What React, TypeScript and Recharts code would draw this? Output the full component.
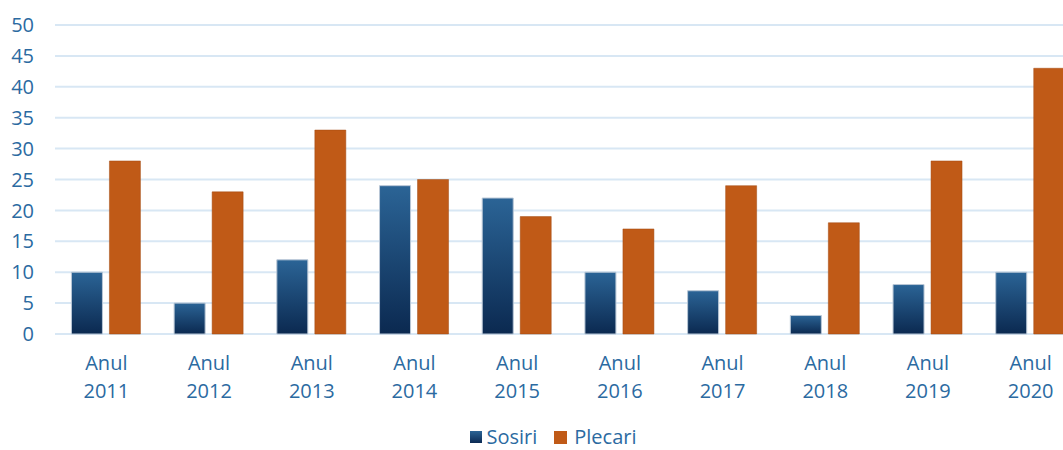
import React from "react";
import { BarChart, Bar, XAxis, YAxis, CartesianGrid, Legend } from "recharts";

const categories = ["2011", "2012", "2013", "2014", "2015", "2016", "2017", "2018", "2019", "2020"];
const sosiri = [10, 5, 12, 24, 22, 10, 7, 3, 8, 10];
const plecari = [28, 23, 33, 25, 19, 17, 24, 18, 28, 43];
const yTicks = [0, 5, 10, 15, 20, 25, 30, 35, 40, 45, 50];

const data = categories.map((c, i) => ({ name: c, Sosiri: sosiri[i], Plecari: plecari[i] }));

const TEXT = "#2b6aa1";
const FONT = "'Open Sans', sans-serif";

const XTick = (props: any) => {
  const { x, y, payload } = props;
  return (
    <text x={x} y={y} textAnchor="middle" fill={TEXT} fontSize={20} fontFamily={FONT}>
      <tspan x={x} dy={28}>Anul</tspan>
      <tspan x={x} dy={28}>{payload.value}</tspan>
    </text>
  );
};

const LegendContent = () => (
  <div style={{ display: "flex", justifyContent: "center", alignItems: "center", fontFamily: FONT, fontSize: 20, color: TEXT, height: 24, lineHeight: "24px" }}>
    <span style={{ display: "inline-block", width: 12, height: 12, background: "linear-gradient(#2b6496, #0c2a54)", marginRight: 4 }} />
    <span style={{ marginRight: 17 }}>Sosiri</span>
    <span style={{ display: "inline-block", width: 13, height: 13, background: "#c05a17", marginRight: 7 }} />
    <span>Plecari</span>
  </div>
);

export default function App() {
  return (
    <div style={{ position: "absolute", left: 0, top: 0, width: 1063, height: 450, overflow: "hidden", background: "#fff" }}>
      <BarChart
        width={1090}
        height={450}
        data={data}
        margin={{ top: 25, right: 8, bottom: 0, left: 0 }}
        barCategoryGap="16%"
        barGap={7}
      >
        <defs>
          <linearGradient id="blueGrad" x1="0" y1="0" x2="0" y2="1">
            <stop offset="0%" stopColor="#2b6496" />
            <stop offset="100%" stopColor="#0b2950" />
          </linearGradient>
        </defs>
        <CartesianGrid vertical={false} stroke="#d8e7f4" strokeWidth={2} />
        <XAxis dataKey="name" height={92} axisLine={false} tickLine={false} tick={<XTick />} interval={0} />
        <YAxis
          width={55}
          domain={[0, 50]}
          ticks={yTicks}
          axisLine={false}
          tickLine={false}
          tickSize={0}
          tickMargin={21}
          tick={{ fill: TEXT, fontSize: 20, fontFamily: FONT }}
          interval={0}
        />
        <Legend
          verticalAlign="bottom"
          height={24}
          content={<LegendContent />}
          wrapperStyle={{ top: 425, bottom: "auto", left: 22, width: 1063, height: 24 }}
        />
        <Bar dataKey="Sosiri" fill="url(#blueGrad)" stroke="#b9c7d6" strokeWidth={1} isAnimationActive={false} />
        <Bar dataKey="Plecari" fill="#c05a17" stroke="#a34a12" strokeWidth={0.5} isAnimationActive={false} />
      </BarChart>
    </div>
  );
}
